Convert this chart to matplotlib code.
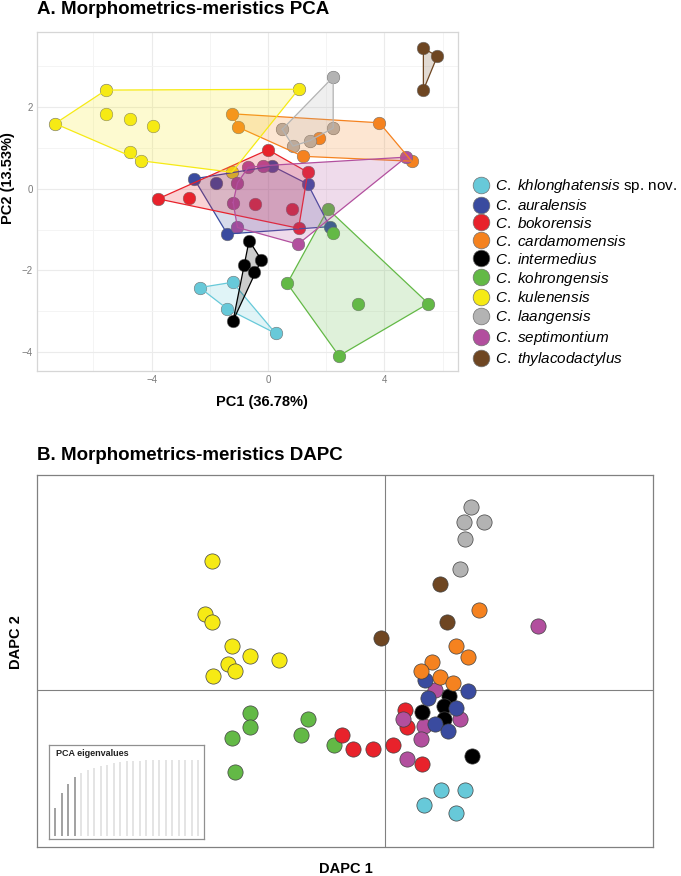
import numpy as np
import matplotlib
matplotlib.use('Agg')
import matplotlib.pyplot as plt
from matplotlib.lines import Line2D

plt.rcParams['font.family'] = ['Liberation Sans', 'DejaVu Sans']
plt.rcParams['mathtext.fontset'] = 'custom'
plt.rcParams['mathtext.rm'] = 'Liberation Sans'
plt.rcParams['mathtext.it'] = 'Liberation Sans:italic'

species = ['khlonghatensis', 'auralensis', 'bokorensis', 'cardamomensis', 'intermedius',
           'kohrongensis', 'kulenensis', 'laangensis', 'septimontium', 'thylacodactylus']
labels = [r'$\mathit{C.\ khlonghatensis}$ sp. nov.', r'$\mathit{C.\ auralensis}$',
          r'$\mathit{C.\ bokorensis}$', r'$\mathit{C.\ cardamomensis}$',
          r'$\mathit{C.\ intermedius}$', r'$\mathit{C.\ kohrongensis}$',
          r'$\mathit{C.\ kulenensis}$', r'$\mathit{C.\ laangensis}$',
          r'$\mathit{C.\ septimontium}$', r'$\mathit{C.\ thylacodactylus}$']
colors = ['#67C9D9', '#3A4B9F', '#E8222B', '#F5821F', '#000000',
          '#63B946', '#F6EA14', '#B3B3B3', '#B24F9E', '#6E4622']

# ---- PCA scores (PC1, PC2) ----
pca_x = {
    'khlonghatensis': [-2.35, -1.22, -1.40, 0.26],
    'auralensis': [-2.54, -1.78, 0.15, 1.37, -1.40, 2.12],
    'bokorensis': [0.00, 1.37, -3.78, -2.72, -0.45, 0.82, 1.05],
    'cardamomensis': [-1.24, -1.02, 3.83, 1.75, 1.20, 4.94],
    'intermedius': [-0.65, -0.23, -0.82, -0.49, -1.20],
    'kohrongensis': [2.06, 2.24, 0.66, 3.10, 5.51, 2.44],
    'kulenensis': [-5.57, 1.05, -7.32, -5.57, -4.73, -3.97, -4.73, -4.35, -1.24],
    'laangensis': [2.24, 0.49, 0.86, 1.43, 2.24],
    'septimontium': [-0.68, -0.17, -1.05, -1.20, -1.05, 1.03, 4.75],
    'thylacodactylus': [5.34, 5.82, 5.34],
}
pca_y = {
    'khlonghatensis': [-2.42, -2.29, -2.94, -3.54],
    'auralensis': [0.24, 0.14, 0.55, 0.11, -1.11, -0.93],
    'bokorensis': [0.95, 0.40, -0.25, -0.22, -0.37, -0.50, -0.97],
    'cardamomensis': [1.83, 1.50, 1.61, 1.25, 0.79, 0.67],
    'intermedius': [-1.27, -1.74, -1.88, -2.05, -3.23],
    'kohrongensis': [-0.50, -1.09, -2.32, -2.81, -2.81, -4.09],
    'kulenensis': [2.41, 2.43, 1.59, 1.82, 1.70, 1.53, 0.90, 0.68, 0.40],
    'laangensis': [2.73, 1.45, 1.04, 1.17, 1.48],
    'septimontium': [0.52, 0.56, 0.14, -0.34, -0.95, -1.36, 0.77],
    'thylacodactylus': [3.43, 3.24, 2.41],
}

# ---- DAPC scores (LD1, LD2) ----
dapc_x = {
    'khlonghatensis': [1.41, 2.01, 0.99, 1.78],
    'auralensis': [1.02, 2.09, 1.10, 1.80, 1.27, 1.60],
    'bokorensis': [0.52, 0.57, -1.07, -0.80, -0.28, 0.20, 0.95],
    'cardamomensis': [2.37, 1.80, 2.09, 1.18, 0.90, 1.38, 1.72],
    'intermedius': [1.61, 1.48, 0.93, 1.48, 2.18],
    'kohrongensis': [-3.36, -3.36, -1.91, -3.82, -2.09, -1.26, -3.74],
    'kulenensis': [-4.32, -4.49, -4.32, -3.82, -3.38, -2.65, -3.93, -3.74, -4.30],
    'laangensis': [2.16, 1.98, 2.49, 2.01, 1.90],
    'septimontium': [3.83, 1.27, 0.45, 1.89, 0.99, 0.90, 0.57],
    'thylacodactylus': [1.38, 1.57, -0.08],
}
dapc_y = {
    'khlonghatensis': [-2.52, -2.52, -2.89, -3.08],
    'auralensis': [0.25, -0.03, -0.22, -0.46, -0.86, -1.03],
    'bokorensis': [-0.52, -0.93, -1.13, -1.49, -1.49, -1.38, -1.87],
    'cardamomensis': [1.98, 1.10, 0.82, 0.68, 0.46, 0.31, 0.17],
    'intermedius': [-0.17, -0.40, -0.55, -0.73, -1.67],
    'kohrongensis': [-0.58, -0.93, -0.74, -1.21, -1.13, -1.39, -2.06],
    'kulenensis': [3.21, 1.88, 1.68, 1.10, 0.83, 0.73, 0.64, 0.46, 0.35],
    'laangensis': [4.57, 4.19, 4.19, 3.78, 3.02],
    'septimontium': [1.60, -0.02, -0.73, -0.74, -0.92, -1.23, -1.75],
    'thylacodactylus': [2.64, 1.68, 1.28],
}
dapc_order = ['kohrongensis', 'kulenensis', 'khlonghatensis', 'bokorensis', 'septimontium',
              'intermedius', 'auralensis', 'cardamomensis', 'thylacodactylus', 'laangensis']

# cumulative variance of retained PCs (inset)
eig_cum = [37, 57, 68, 77, 83, 87, 90, 92.5, 94, 96, 97, 98, 98.7, 99.2, 99.5,
           99.7, 99.8, 99.9, 100, 100, 100, 100, 100]
n_retained = 4


def hull(pts):
    pts = sorted(set(pts))
    if len(pts) < 3:
        return pts
    def cross(o, a, b):
        return (a[0]-o[0])*(b[1]-o[1]) - (a[1]-o[1])*(b[0]-o[0])
    lower, upper = [], []
    for p in pts:
        while len(lower) >= 2 and cross(lower[-2], lower[-1], p) <= 0:
            lower.pop()
        lower.append(p)
    for p in reversed(pts):
        while len(upper) >= 2 and cross(upper[-2], upper[-1], p) <= 0:
            upper.pop()
        upper.append(p)
    return lower[:-1] + upper[:-1]


W, H = 681, 876
fig = plt.figure(figsize=(W/100, H/100), dpi=100)

def box(l, t, r, b):
    return [l/W, 1 - b/H, (r-l)/W, (b-t)/H]

# ================= A. PCA =================
ax = fig.add_axes(box(37, 32, 458, 371))
for s, c in zip(species, colors):
    ax.scatter(pca_x[s], pca_y[s], s=82, color=c, edgecolor='#707070', linewidth=0.4, zorder=2)
for s, c in zip(species, colors):
    h = hull(list(zip(pca_x[s], pca_y[s])))
    hx = [p[0] for p in h] + [h[0][0]]
    hy = [p[1] for p in h] + [h[0][1]]
    ax.fill(hx, hy, color=c, alpha=0.2, lw=0, zorder=3)
    ax.plot(hx, hy, color=c, lw=0.9, zorder=3)

ax.set_xlim(-7.94, 6.53)
ax.set_ylim(-4.46, 3.83)
ax.set_xticks([-4, 0, 4])
ax.set_yticks([-4, -2, 0, 2])
ax.set_xticks([-6, -2, 2, 6], minor=True)
ax.set_yticks([-3, -1, 1, 3], minor=True)
ax.grid(True, which='major', color='#ebebeb', lw=0.8)
ax.grid(True, which='minor', color='#f3f3f3', lw=0.6)
ax.set_axisbelow(True)
ax.tick_params(which='both', length=0, labelsize=7, labelcolor='#7a7a7a', pad=3)
for sp in ax.spines.values():
    sp.set_color('#d6d6d6')
    sp.set_linewidth(0.9)

fig.text(37/W, 1 - 10/H, 'A. Morphometrics-meristics PCA', fontsize=13.5, fontweight='bold',
         ha='left', va='center')
fig.text(262/W, 1 - 402/H, 'PC1 (36.78%)', fontsize=10.5, fontweight='bold',
         ha='center', va='center')
fig.text(8/W, 1 - 178/H, 'PC2 (13.53%)', fontsize=10.5, fontweight='bold',
         ha='center', va='center', rotation=90)

handles = [Line2D([], [], marker='o', ls='none', markersize=12, markerfacecolor=c,
                  markeredgecolor='#707070', markeredgewidth=0.5) for c in colors]
fig.legend(handles, labels, loc='upper left', bbox_to_anchor=(472/W, 1 - 177/H),
           frameon=False, fontsize=11, handletextpad=0.3, labelspacing=0.19,
           borderpad=0, borderaxespad=0, handlelength=1.2)

# ================= B. DAPC =================
bx = fig.add_axes(box(37, 475, 653, 847))
for s in dapc_order:
    c = colors[species.index(s)]
    bx.scatter(dapc_x[s], dapc_y[s], s=120, color=c, edgecolor='#404040', linewidth=0.5, zorder=3)
bx.axhline(0, color='#808080', lw=0.8, zorder=1)
bx.axvline(0, color='#808080', lw=0.8, zorder=1)
bx.set_xlim(-8.70, 6.72)
bx.set_ylim(-3.94, 5.37)
bx.set_xticks([])
bx.set_yticks([])
for sp in bx.spines.values():
    sp.set_color('#808080')
    sp.set_linewidth(0.9)

fig.text(37/W, 1 - 456/H, 'B. Morphometrics-meristics DAPC', fontsize=13.5, fontweight='bold',
         ha='left', va='center')
fig.text(346/W, 1 - 869/H, 'DAPC 1', fontsize=10.5, fontweight='bold', ha='center', va='center')
fig.text(16/W, 1 - 642/H, 'DAPC 2', fontsize=10.5, fontweight='bold', ha='center', va='center',
         rotation=90)

# inset eigenvalues
ix = fig.add_axes(box(49.3, 745.3, 204.3, 838.7), zorder=5)
idx = np.arange(1, len(eig_cum) + 1)
bar_cols = ['#9a9a9a' if i <= n_retained else '#e2e2e2' for i in idx]
ix.vlines(idx, 0, eig_cum, colors=bar_cols, lw=1.3)
ix.set_xlim(0.125, 23.92)
ix.set_ylim(-3.6, 119.3)
ix.set_xticks([])
ix.set_yticks([])
for sp in ix.spines.values():
    sp.set_color('#909090')
    sp.set_linewidth(0.9)
ix.text(0.045, 0.91, 'PCA eigenvalues', transform=ix.transAxes, fontsize=6.5,
        fontweight='bold', ha='left', va='center', color='#222222')

fig.savefig('out.png', dpi=100)
